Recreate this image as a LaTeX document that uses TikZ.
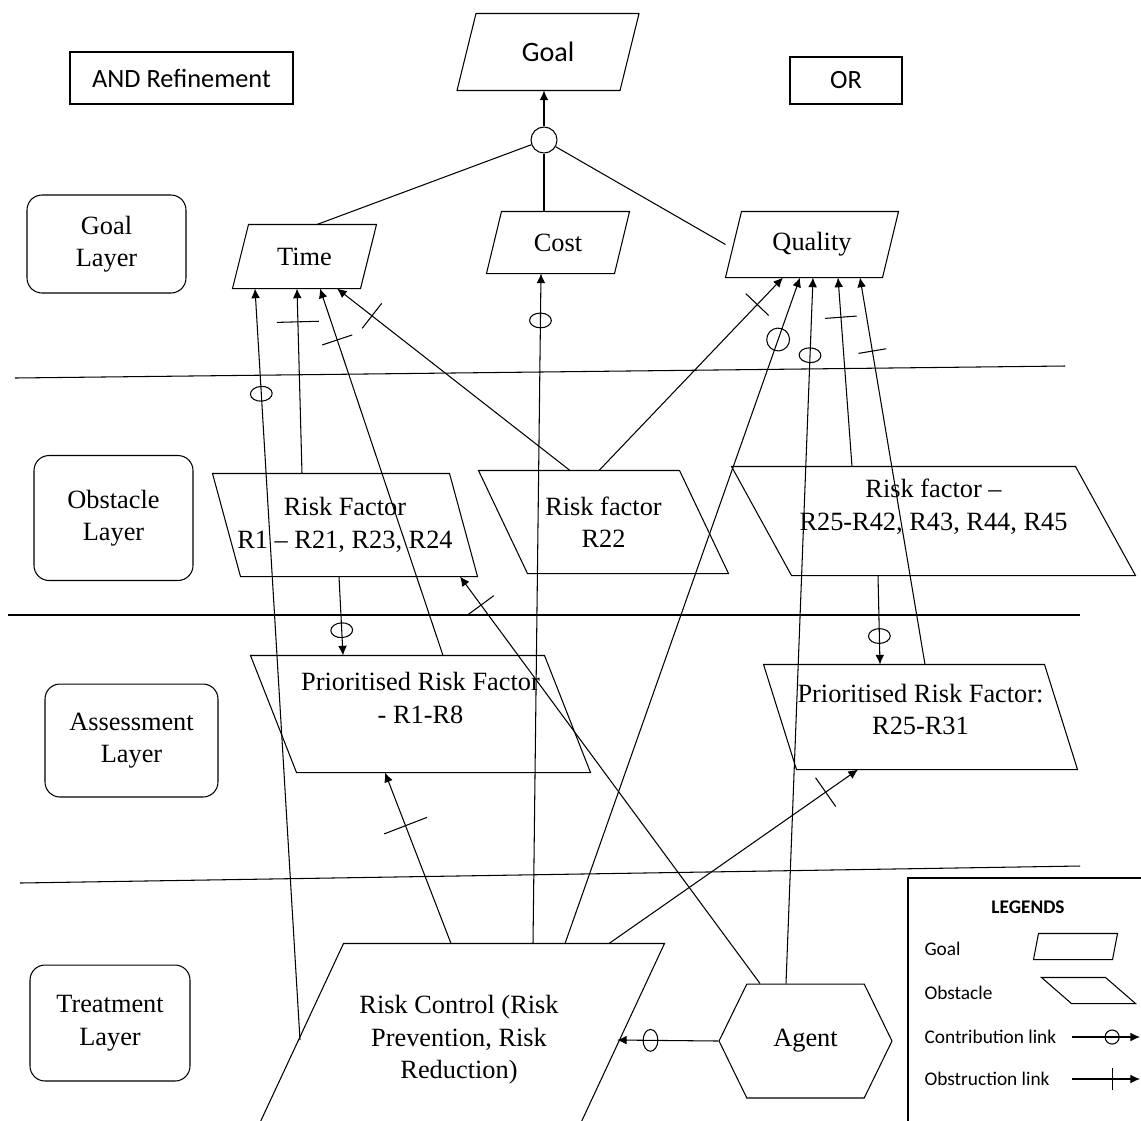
\documentclass[tikz,border=0pt]{standalone}
\usepackage{fontspec}
\setmainfont{Liberation Serif}
\newfontfamily\calib{Carlito}
\usepackage{tikz}
\usetikzlibrary{shapes.symbols, arrows.meta, decorations.markings}

\tikzset{
  % goal: top edge pushed right, obstacle: top edge pushed left
  gpara/.style={inner sep=1pt, align=center, append after command={\pgfextra{
    \draw ([xshift=#1]\tikzlastnode.north west) -- (\tikzlastnode.north east)
      -- ([xshift=-#1]\tikzlastnode.south east) -- (\tikzlastnode.south west) -- cycle;}}},
  opara/.style={inner sep=1pt, align=center, append after command={\pgfextra{
    \draw (\tikzlastnode.north west) -- ([xshift=-#1]\tikzlastnode.north east)
      -- (\tikzlastnode.south east) -- ([xshift=#1]\tikzlastnode.south west) -- cycle;}}},
  layer/.style={draw, rounded corners=0.3cm, align=center},
  link/.style={-{Latex[length=5.5pt,width=5pt]}},
  contrib/.style={postaction={decorate, decoration={markings,
    mark=at position #1 with {\draw[-] (0,0) ellipse (4.2pt and 6.2pt);}}}},
  bigcontrib/.style={postaction={decorate, decoration={markings,
    mark=at position #1 with {\draw[-] (0,0) circle (6.5pt);}}}},
  obstr/.style 2 args={postaction={decorate, decoration={markings,
    mark=at position #1 with {\draw[-] (0,-#2) -- (0,#2);}}}},
}

\begin{document}
\begin{tikzpicture}[x=0.02cm, y=-0.02cm, line width=0.6pt,
  font=\fontsize{15}{18.5}\selectfont]
\useasboundingbox (0,0) rectangle (1141,1120);

% headings
\node[draw, minimum width=4.46cm, minimum height=1.04cm,
      font=\calib\fontsize{15}{18}\selectfont] (and) at (181.5,78) {AND Refinement};
\node[draw, minimum width=2.24cm, minimum height=0.94cm,
      font=\calib\fontsize{15}{18}\selectfont] (or) at (846,80.5) {OR};
\node[gpara=0.38cm, minimum width=3.62cm, minimum height=1.52cm,
      font=\calib\fontsize{16}{19}\selectfont] (goal) at (548,52) {Goal};
\node[draw, circle, inner sep=0pt, minimum size=0.52cm] (andc) at (544,140) {};

% layers
\node[layer, minimum width=3.18cm, minimum height=1.96cm] (gl) at (106.5,244) {Goal\\Layer};
\node[layer, minimum width=3.18cm, minimum height=2.5cm] (ol) at (113.5,518) {Obstacle\\Layer};
\node[layer, minimum width=3.46cm, minimum height=2.26cm] (al) at (131.5,740.5) {Assessment\\Layer};
\node[layer, minimum width=3.2cm, minimum height=2.32cm] (tl) at (110,1023) {Treatment\\Layer};

\draw (15,378) -- (1065,366);
\draw (8,615) -- (1080,615);
\draw (20,883) -- (1080,866);

% goal layer
\node[gpara=0.32cm, minimum width=2.86cm, minimum height=1.26cm] (time) at (304.5,256.5) {Time};
\node[gpara=0.30cm, minimum width=2.84cm, minimum height=1.22cm] (cost) at (558,242.5) {Cost};
\node[gpara=0.32cm, minimum width=3.44cm, minimum height=1.3cm] (qual) at (812,244.5) {Quality};

% obstacle layer
\node[opara=0.56cm, minimum width=5.28cm, minimum height=2.04cm] (rf1) at (345,525)
  {Risk Factor\\R1 -- R21, R23, R24};
\node[opara=0.98cm, minimum width=4.98cm, minimum height=2.04cm] (rf22) at (603.5,522)
  {Risk factor\\R22};
\node[opara=1.2cm, minimum width=8.06cm, minimum height=2.16cm] (rf25) at (933.5,521)
  {Risk factor --\\R25-R42, R43, R44, R45\\\mbox{}};

% assessment layer
\node[opara=0.92cm, minimum width=6.78cm, minimum height=2.32cm] (pr1) at (420.5,714)
  {Prioritised Risk Factor\\- R1-R8\\\mbox{}};
\node[opara=0.66cm, minimum width=6.26cm, minimum height=2.08cm] (pr25) at (920.5,717)
  {Prioritised Risk Factor:\\R25-R31\\[-10pt]\mbox{}};

% treatment layer
\node[gpara=1.8cm, minimum width=8.2cm, minimum height=3.84cm] (rc) at (459,1040)
  {Risk Control (Risk\\Prevention, Risk\\Reduction)};
\node[draw, signal, signal to=east and west, signal pointer angle=128,
      minimum width=3.46cm, minimum height=2.28cm] (agent) at (805.5,1041) {Agent};

% AND refinement
\draw[link] (andc) -- (andc |- goal.south);
\draw (andc) -- (317,0 |- time.north);
\draw (andc) -- (andc |- cost.north);
\draw (andc) -- (qual.west);

% links
\draw[link, contrib=.86] (300,0 |- rc.west) -- (255,0 |- time.south);
\draw[link, obstr={.82}{12pt}] (302,0 |- rf1.north) -- (297,0 |- time.south);
\draw[link, obstr={.86}{9pt}] (443,0 |- pr1.north) -- (320,0 |- time.south);
\draw[link, obstr={.85}{9pt}] (570,0 |- rf22.north) -- (337,0 |- time.south);
\draw[link, contrib=.93] (533,0 |- rc.north) -- (541,0 |- cost.south);
\draw[link, obstr={.86}{9pt}] (599,0 |- rf22.north) -- (783,0 |- qual.south);
\draw[link, bigcontrib=.907] (565,0 |- rc.north) -- (800,0 |- qual.south);
\draw[link, contrib=.89] (786,0 |- agent.north) -- (813,0 |- qual.south);
\draw[link, obstr={.79}{9pt}] (852,0 |- rf25.north) -- (838,0 |- qual.south);
\draw[link, obstr={.81}{8pt}] (925,0 |- pr25.north) -- (860,0 |- qual.south);

\draw[link, contrib=.68] (339,0 |- rf1.south) -- (343,0 |- pr1.north);
\draw[link, contrib=.68] (878,0 |- rf25.south) -- (880,0 |- pr25.north);

\draw[link, obstr={.69}{13pt}] (451,0 |- rc.north) -- (385,0 |- pr1.south);
\draw[link, obstr={.87}{10pt}] (609,0 |- rc.north) -- (858,0 |- pr25.south);
\draw[link, obstr={.93}{9pt}] (760,0 |- agent.north) -- (460,0 |- rf1.south);
\draw[link, contrib=.67] (agent.west) -- (617,0 |- rc.east);

% legends
\draw (908,878) rectangle (1160,1140);
\begin{scope}[font=\calib\fontsize{11}{13}\selectfont]
\node[font=\calib\bfseries\fontsize{11}{13}\selectfont] (leg) at (1028,907) {LEGENDS};
\node[anchor=west, inner sep=0pt] (lgoal) at (924,949) {Goal};
\node[anchor=west, inner sep=0pt] (lobs) at (924,993) {Obstacle};
\node[anchor=west, inner sep=0pt] (lcon) at (924,1037) {Contribution link};
\node[anchor=west, inner sep=0pt] (lobt) at (924,1079) {Obstruction link};
\node[gpara=0.1cm, minimum width=1.66cm, minimum height=0.5cm] (lgs) at (1075.5,946.5) {};
\node[opara=0.6cm, minimum width=1.86cm, minimum height=0.5cm] (los) at (1088.5,990.5) {};
\coordinate (c1) at (1072,1037); \coordinate (c2) at (1140,1037);
\coordinate (o1) at (1072,1079); \coordinate (o2) at (1140,1079);
\draw[link, postaction={decorate, decoration={markings,
  mark=at position .59 with {\draw[-] (0,0) circle (4pt);}}}] (c1) -- (c2);
\draw[link, obstr={.59}{6.3pt}] (o1) -- (o2);
\end{scope}
\end{tikzpicture}
\end{document}
